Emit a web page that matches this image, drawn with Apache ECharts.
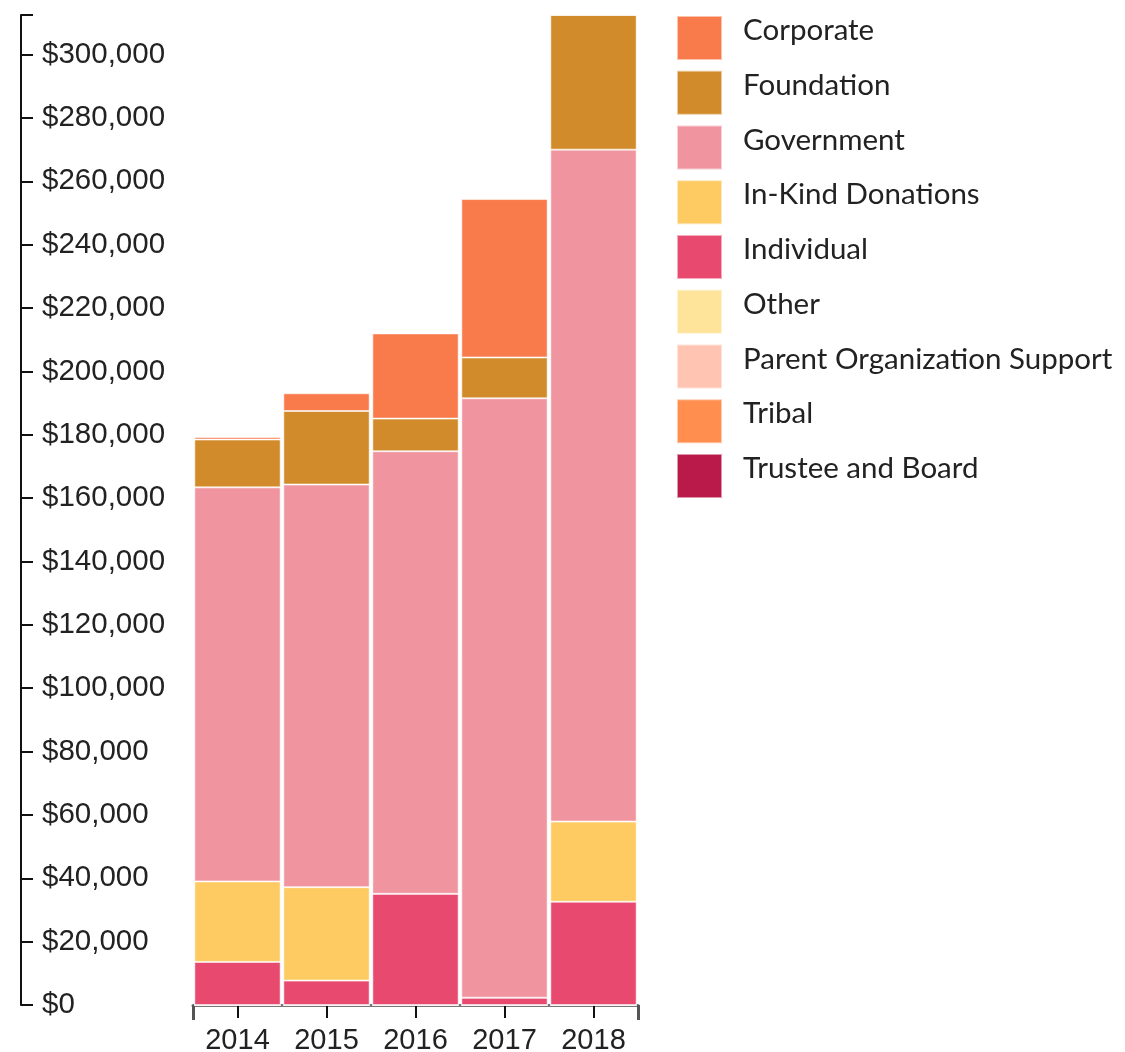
<!DOCTYPE html>
<html>
<head>
<meta charset="utf-8">
<script src="https://cdn.jsdelivr.net/npm/echarts@6/dist/echarts.min.js"></script>
<style>
  html, body { margin: 0; padding: 0; background: #fff; }
  #chart { width: 1125px; height: 1052px; }
</style>
</head>
<body>
<div id="chart"></div>
<script>
const years = ['2014', '2015', '2016', '2017', '2018'];

// revenue by source, one value per year
const corporate = [800, 5600, 26900, 50000, 0];
const foundation = [15100, 23200, 10300, 12900, 42500];
const government = [124400, 127100, 139700, 189200, 212100];
const inKind = [25400, 29500, 0, 0, 25300];
const individual = [13600, 7700, 35100, 2300, 32600];
const other = [0, 0, 0, 0, 0];
const parentOrg = [0, 0, 0, 0, 0];
const tribal = [0, 0, 0, 0, 0];
const trustee = [0, 0, 0, 0, 0];

const yMax = 312500;
const yStep = 20000;

const colors = {
  'Corporate': '#f97b4b',
  'Foundation': '#d28b2a',
  'Government': '#f095a0',
  'In-Kind Donations': '#fdcb62',
  'Individual': '#e84a6f',
  'Other': '#fee39a',
  'Parent Organization Support': '#ffc4b2',
  'Tribal': '#ff8e4f',
  'Trustee and Board': '#ba1a4a'
};

// bottom of the stack first
const stackOrder = [
  ['Trustee and Board', trustee],
  ['Tribal', tribal],
  ['Parent Organization Support', parentOrg],
  ['Other', other],
  ['Individual', individual],
  ['In-Kind Donations', inKind],
  ['Government', government],
  ['Foundation', foundation],
  ['Corporate', corporate]
];

const legendNames = stackOrder.map(s => s[0]).reverse();

var myChart = echarts.init(document.getElementById('chart'));

myChart.setOption({
  animation: false,
  grid: {
    left: 193,
    right: 487,
    top: 15,
    bottom: 47,
    containLabel: false,
    outerBoundsMode: 'none'
  },
  legend: {
    data: legendNames,
    orient: 'vertical',
    left: 676,
    top: 15,
    padding: 0,
    itemWidth: 45,
    itemHeight: 44,
    itemGap: 8.75,
    icon: 'rect',
    selectedMode: false,
    // second empty line lifts the label a little above the swatch centre
    formatter: function (name) { return '{t|' + name + '}\n{s|}'; },
    textStyle: {
      fontFamily: 'Lato',
      fontSize: 29.5,
      color: '#222',
      padding: [0, 0, 0, 16],
      rich: {
        t: { fontFamily: 'Lato', fontSize: 29.5, color: '#222', lineHeight: 30 },
        s: { fontSize: 10, lineHeight: 15 }
      }
    }
  },
  xAxis: [
    {
      type: 'category',
      data: years,
      position: 'bottom',
      axisLine: {
        show: true,
        lineStyle: { color: '#777', width: 3 }
      },
      axisTick: {
        show: true,
        alignWithLabel: true,
        length: 13,
        lineStyle: { color: '#111', width: 2 }
      },
      axisLabel: {
        fontFamily: 'Liberation Sans',
        fontSize: 29,
        color: '#222',
        margin: 21
      }
    },
    {
      // outer end ticks only
      type: 'category',
      data: years,
      position: 'bottom',
      axisLine: { show: false },
      axisTick: {
        show: true,
        interval: function (i) { return i === 0; },
        length: 15,
        lineStyle: { color: '#555', width: 3 }
      },
      axisLabel: { show: false }
    }
  ],
  yAxis: {
    type: 'value',
    min: 0,
    max: yMax,
    interval: yStep,
    offset: 172,
    axisLine: {
      show: true,
      lineStyle: { color: '#111', width: 2 }
    },
    axisTick: {
      show: true,
      inside: true,
      length: 12,
      lineStyle: { color: '#111', width: 2 }
    },
    splitLine: { show: false },
    axisLabel: {
      inside: true,
      margin: 21,
      fontFamily: 'Liberation Sans',
      fontSize: 29.5,
      color: '#222',
      formatter: function (v) {
        if (v % yStep !== 0) return '';
        return '$' + v.toLocaleString('en-US');
      }
    }
  },
  series: stackOrder.map(([name, values]) => ({
    name: name,
    type: 'bar',
    stack: 'total',
    xAxisIndex: 0,
    barCategoryGap: '3%',
    data: values,
    itemStyle: {
      color: colors[name],
      borderColor: 'rgba(255,255,255,0.55)',
      borderWidth: 1
    }
  }))
});
</script>
</body>
</html>
